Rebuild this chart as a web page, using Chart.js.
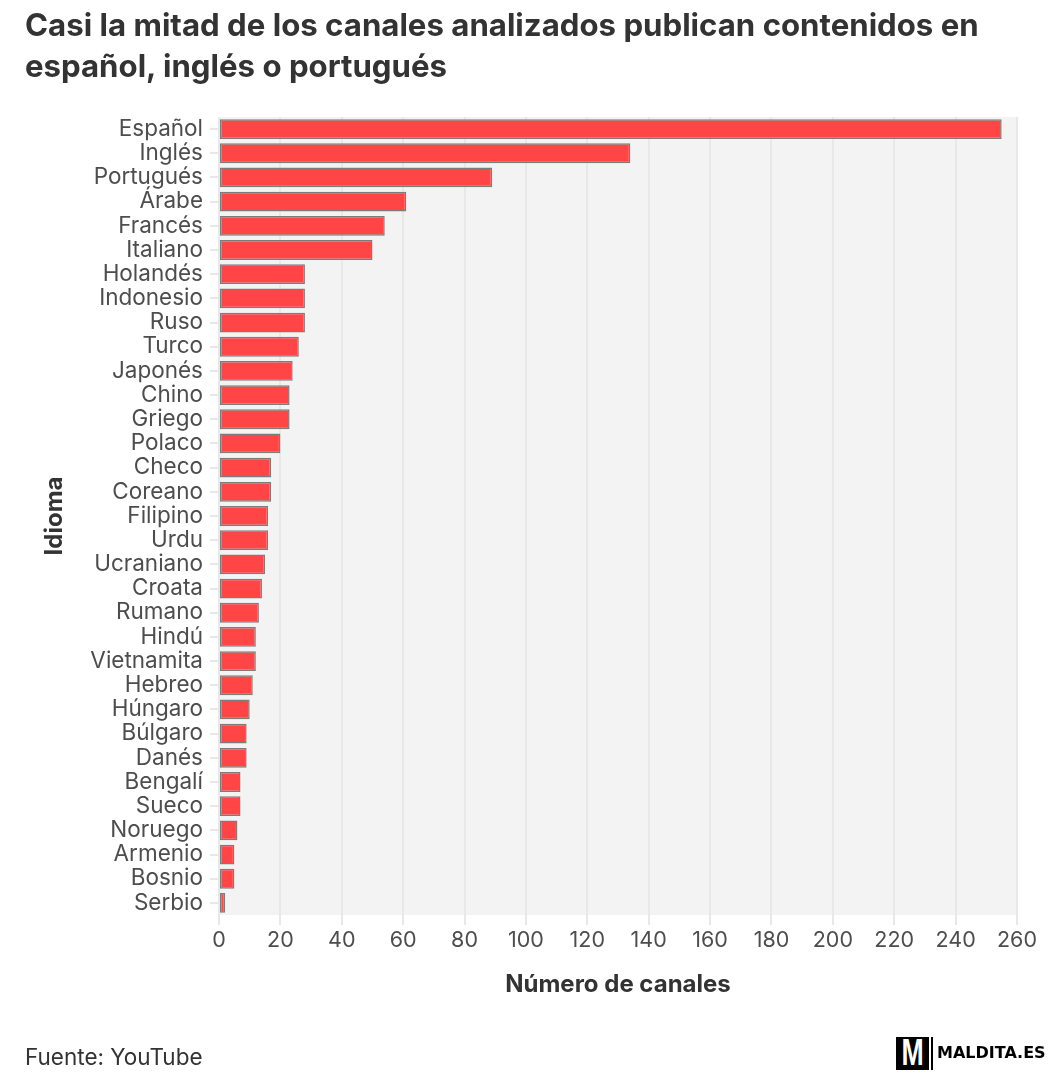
<!DOCTYPE html>
<html>
<head>
<meta charset="utf-8">
<script src="https://cdn.jsdelivr.net/npm/chart.js@4.4.1/dist/chart.umd.min.js"></script>
<style>
  html, body { margin: 0; padding: 0; background: #fff; }
  #page { position: relative; width: 1054px; height: 1084px; overflow: hidden; font-family: Inter, sans-serif; }
  #chartBox { position: absolute; left: 0; top: 0; width: 1054px; height: 1084px; }
  #title { position: absolute; left: 25px; top: 5px; font-size: 31.2px; line-height: 41px; font-weight: 700; color: #333; white-space: nowrap; }
  #source { position: absolute; left: 25px; top: 1043px; font-size: 22.5px; line-height: 28px; color: #333; }
  #logoBox { position: absolute; left: 896px; top: 1037px; width: 33px; height: 33px; background: #000; overflow: hidden; }
  #logoBox span { position: absolute; left: 0; top: -4px; width: 33px; text-align: center; color: #fff; font: bold 36px "Liberation Sans", sans-serif; line-height: 40px; transform: scaleX(0.74); }
  #logoBar { position: absolute; left: 931px; top: 1037px; width: 2px; height: 33px; background: #000; }
  #logoText { position: absolute; left: 937px; top: 1045px; font: bold 16px "DejaVu Sans", sans-serif; line-height: 16px; color: #000; }
</style>
</head>
<body>
<div id="page">
  <div id="chartBox"><canvas id="chart"></canvas></div>
  <div id="title">Casi la mitad de los canales analizados publican contenidos en<br>español, inglés o portugués</div>
  <div id="source">Fuente: YouTube</div>
  <div id="logoBox"><span>M</span></div>
  <div id="logoBar"></div>
  <div id="logoText">MALDITA.ES</div>
</div>
<script>
const idiomas = ['Español', 'Inglés', 'Portugués', 'Árabe', 'Francés', 'Italiano', 'Holandés', 'Indonesio', 'Ruso',
  'Turco', 'Japonés', 'Chino', 'Griego', 'Polaco', 'Checo', 'Coreano', 'Filipino', 'Urdu', 'Ucraniano', 'Croata',
  'Rumano', 'Hindú', 'Vietnamita', 'Hebreo', 'Húngaro', 'Búlgaro', 'Danés', 'Bengalí', 'Sueco', 'Noruego',
  'Armenio', 'Bosnio', 'Serbio']
const canales = [255, 134, 89, 61, 54, 50, 28, 28, 28, 26, 24, 23, 23, 20, 17, 17, 16, 16, 15, 14, 13, 12, 12, 11,
  10, 9, 9, 7, 7, 6, 5, 5, 2]
const ejeMin = 0
const ejeMax = 260
const ejePaso = 20

// grey panel behind the bars, like the ggplot background
const panelBg = {
  id: 'panelBg',
  beforeDraw(chart) {
    const {ctx, chartArea: a} = chart
    ctx.save()
    ctx.fillStyle = '#f3f3f3'
    ctx.fillRect(a.left - 1, a.top, a.right - a.left + 1, a.bottom - a.top)
    ctx.restore()
  }
}

const draw = () => {
  const ctx = document.getElementById('chart').getContext('2d')
  new Chart(ctx, {
    type: 'bar',
    data: {
      labels: idiomas,
      datasets: [{
        data: canales,
        backgroundColor: '#ff4545',
        borderColor: '#7c7c7c',
        borderWidth: 1.5,
        borderSkipped: false,
        barPercentage: 0.82,
        categoryPercentage: 1
      }]
    },
    plugins: [panelBg],
    options: {
      indexAxis: 'y',
      responsive: true,
      maintainAspectRatio: false,
      animation: false,
      layout: {padding: {top: 117, right: 37, bottom: 0, left: 0}},
      plugins: {legend: {display: false}, tooltip: {enabled: false}},
      scales: {
        x: {
          min: ejeMin,
          max: ejeMax,
          afterFit: scale => { scale.height = 169 },
          border: {display: false},
          grid: {color: '#e8e8e8', lineWidth: 2, tickLength: 10},
          ticks: {stepSize: ejePaso, padding: 3, color: '#4d4d4d', font: {family: 'Inter', size: 21.5}},
          title: {
            display: true,
            text: 'Número de canales',
            color: '#333',
            font: {family: 'Inter', size: 24, weight: 'bold'},
            padding: {top: 0, bottom: 85}
          }
        },
        y: {
          afterFit: scale => { scale.width = 219 },
          border: {display: false},
          grid: {color: '#e8e8e8', lineWidth: 2, tickLength: 9, drawOnChartArea: false, offset: false},
          ticks: {padding: 7, color: '#4d4d4d', autoSkip: false, font: {family: 'Inter', size: 22.5}},
          title: {
            display: true,
            text: 'Idioma',
            color: '#333',
            font: {family: 'Inter', size: 24, weight: 'bold'},
            padding: {top: 40, bottom: 0}
          }
        }
      }
    }
  })
}

document.fonts.load('20px Inter').then(() => document.fonts.load('bold 20px Inter')).then(draw, draw)
</script>
</body>
</html>
